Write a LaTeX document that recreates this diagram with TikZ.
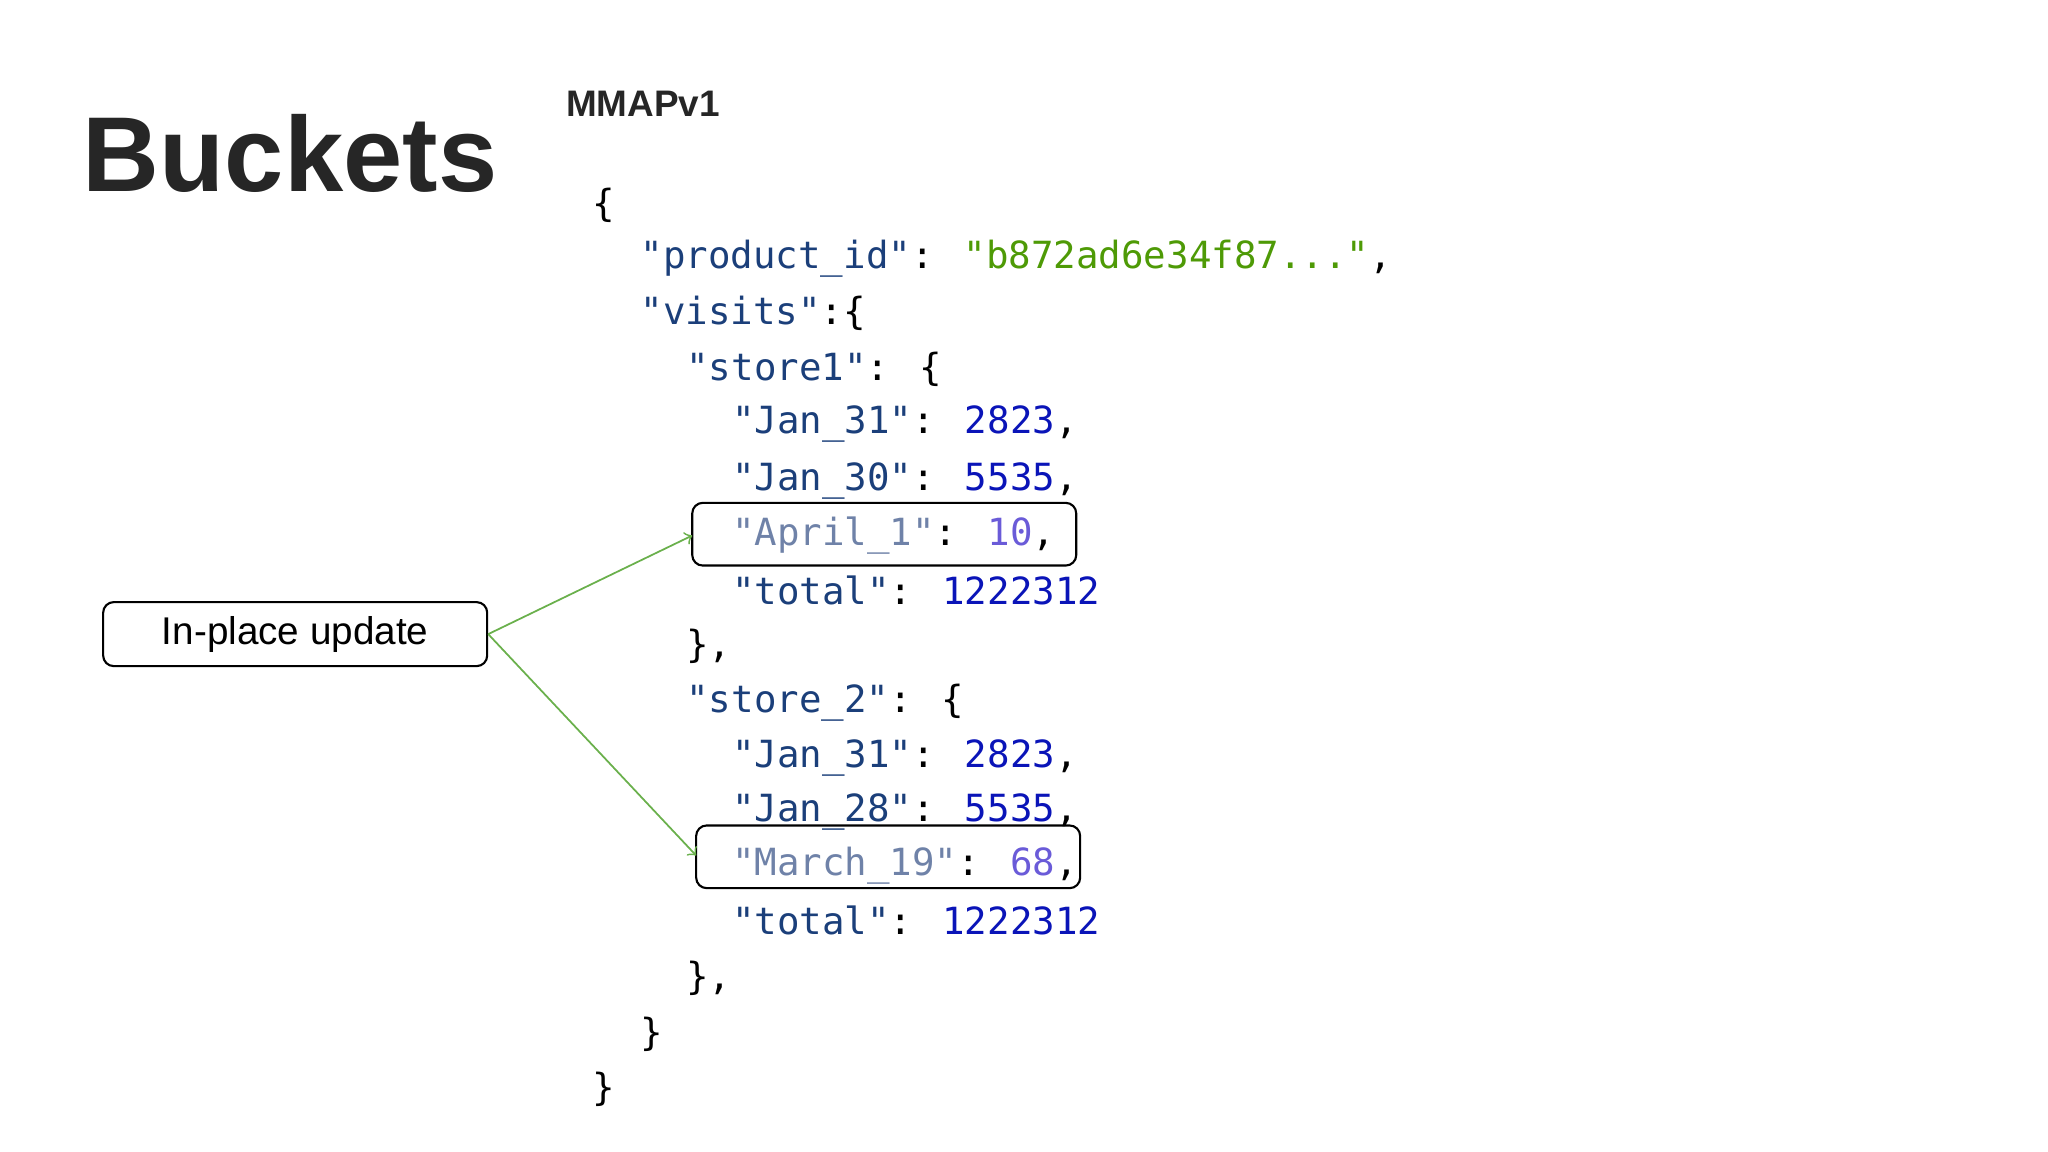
\documentclass[tikz,border=0pt]{standalone}
\usepackage{fontspec}
\setmainfont{Liberation Sans}
\newfontfamily\codefont{DejaVu Sans Mono}
\begin{document}
\definecolor{keyc}{HTML}{1B3F7A}
\definecolor{strc}{HTML}{4E9A06}
\definecolor{numc}{HTML}{0A14B8}
\definecolor{fkey}{HTML}{6F82A8}
\definecolor{fnum}{HTML}{6A5BD8}
\definecolor{arr}{HTML}{6AB04C}
\begin{tikzpicture}[x=0.013061cm,y=-0.013061cm,
  code/.style={anchor=west,inner sep=0,font=\codefont\fontsize{10.65}{12}\selectfont},
  hbox/.style={draw,rounded corners=3pt,line width=0.6pt},
  conn/.style={draw=arr,line width=0.5pt,-to}]
\useasboundingbox (0,0) rectangle (1568,882);
\node[anchor=base west,inner sep=0,font=\bfseries\fontsize{30.3}{34}\selectfont,text=black!85] (title) at (63,147) {Buckets};
\node[anchor=base west,inner sep=0,font=\bfseries\fontsize{10.5}{12}\selectfont,text=black!85] (mm) at (433,89) {MMAPv1};
\node[code] (l1) at (453,157) {\{};
\node[code] (l2) at (490,198) {\textcolor{keyc}{"product\_id"}: \textcolor{strc}{"b872ad6e34f87..."},};
\node[code] (l3) at (490,240) {\textcolor{keyc}{"visits"}:\{};
\node[code] (l4) at (525,283) {\textcolor{keyc}{"store1"}: \{};
\node[code] (l5) at (560,325) {\textcolor{keyc}{"Jan\_31"}: \textcolor{numc}{2823},};
\node[code] (l6) at (560,368) {\textcolor{keyc}{"Jan\_30"}: \textcolor{numc}{5535},};
\node[code] (l7) at (560,410) {\textcolor{fkey}{"April\_1"}: \textcolor{fnum}{10},};
\node[code] (l8) at (560,452) {\textcolor{keyc}{"total"}: \textcolor{numc}{1222312}};
\node[code] (l9) at (525,495) {\},};
\node[code] (l10) at (525,538) {\textcolor{keyc}{"store\_2"}: \{};
\node[code] (l11) at (560,580) {\textcolor{keyc}{"Jan\_31"}: \textcolor{numc}{2823},};
\node[code] (l12) at (560,622) {\textcolor{keyc}{"Jan\_28"}: \textcolor{numc}{5535},};
\node[code] (l13) at (560,663) {\textcolor{fkey}{"March\_19"}: \textcolor{fnum}{68},};
\node[code] (l14) at (560,705) {\textcolor{keyc}{"total"}: \textcolor{numc}{1222312}};
\node[code] (l15) at (525,749) {\},};
\node[code] (l16) at (490,792) {\}};
\node[code] (l17) at (453,834) {\}};
\draw[hbox] (530,385) rectangle (824,433);
\draw[hbox] (533,632) rectangle (827,680);
\coordinate (t1) at (530,410);
\coordinate (t2) at (533,655);
\node[hbox,minimum width=294*0.013061cm,minimum height=49*0.013061cm,font=\fontsize{11}{13}\selectfont] (ip) at (226,485.5) {In-place update};
\draw[conn] (ip.east) -- (t1);
\draw[conn] (ip.east) -- (t2);
\end{tikzpicture}
\end{document}
